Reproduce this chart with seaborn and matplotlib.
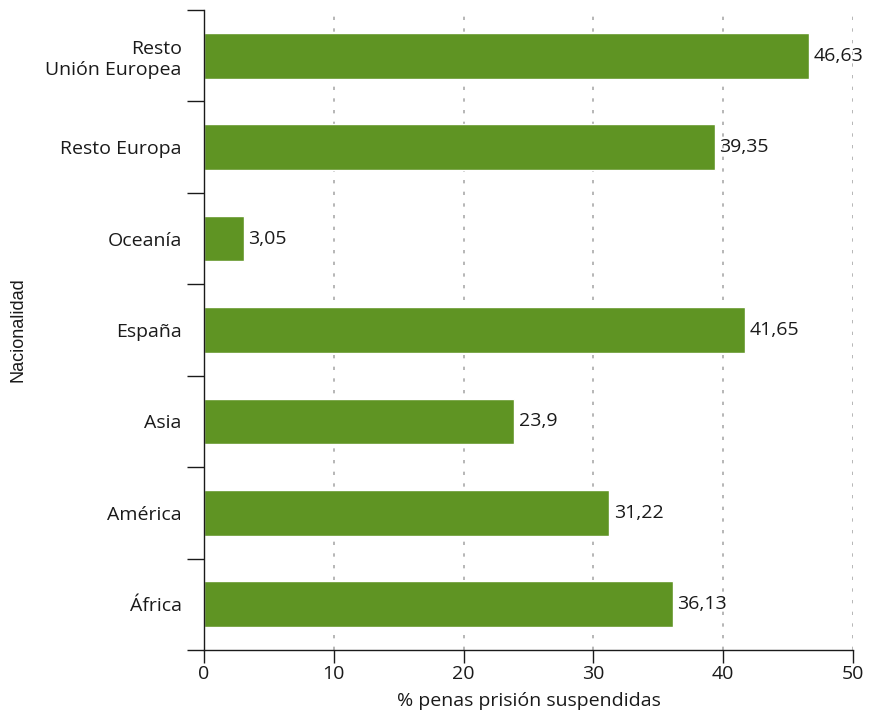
import matplotlib
matplotlib.use("Agg")
import matplotlib.pyplot as plt
import seaborn as sns
import pandas as pd
import numpy as np

nacionalidad = ["Resto\nUnión Europea", "Resto Europa", "Oceanía", "España",
                "Asia", "América", "África"]
porcentaje = [46.63, 39.35, 3.05, 41.65, 23.9, 31.22, 36.13]

df = pd.DataFrame({"nacionalidad": nacionalidad, "porcentaje": porcentaje})

sns.set_style("white")
plt.rcParams["font.family"] = ["Open Sans", "DejaVu Sans"]

fig = plt.figure(figsize=(8.69, 7.16), dpi=100)
ax = fig.add_axes([0.2348, 0.0922, 0.7468, 0.8938])

sns.barplot(data=df, x="porcentaje", y="nacionalidad", orient="h",
            color="#5f9423", saturation=1, width=0.5, ax=ax)

for i, v in enumerate(porcentaje):
    ax.text(v + 0.35, i, str(v).replace(".", ","), va="center", ha="left",
            fontsize=14, color="#1a1a1a")

ax.set_xlim(0, 50)
ax.set_ylim(6.5, -0.5)
ax.set_xticks([0, 10, 20, 30, 40, 50])
ax.xaxis.grid(True, linestyle=(0, (2, 5)), color="#aaaaaa", linewidth=1.2)
ax.set_axisbelow(True)

ax.set_yticks(np.arange(-0.5, 7, 1), minor=True)
ax.tick_params(axis="y", which="major", length=0, labelsize=14, pad=16)
ax.tick_params(axis="y", which="minor", length=12, width=1, color="#1a1a1a", left=True)
ax.tick_params(axis="x", length=9, width=1, color="#1a1a1a", labelsize=14, pad=2, bottom=True)
for lbl in ax.get_yticklabels() + ax.get_xticklabels():
    lbl.set_color("#1a1a1a")

for s in ["top", "right"]:
    ax.spines[s].set_visible(False)
for s in ["left", "bottom"]:
    ax.spines[s].set_color("#1a1a1a")
    ax.spines[s].set_linewidth(1)

ax.set_xlabel("% penas prisión suspendidas", fontsize=14, color="#1a1a1a", labelpad=6)
ax.set_ylabel("Nacionalidad", fontsize=13, family=["Liberation Sans"], color="#1a1a1a")
ax.yaxis.set_label_coords(-0.273, 0.5)

fig.savefig("out.png", dpi=100)
